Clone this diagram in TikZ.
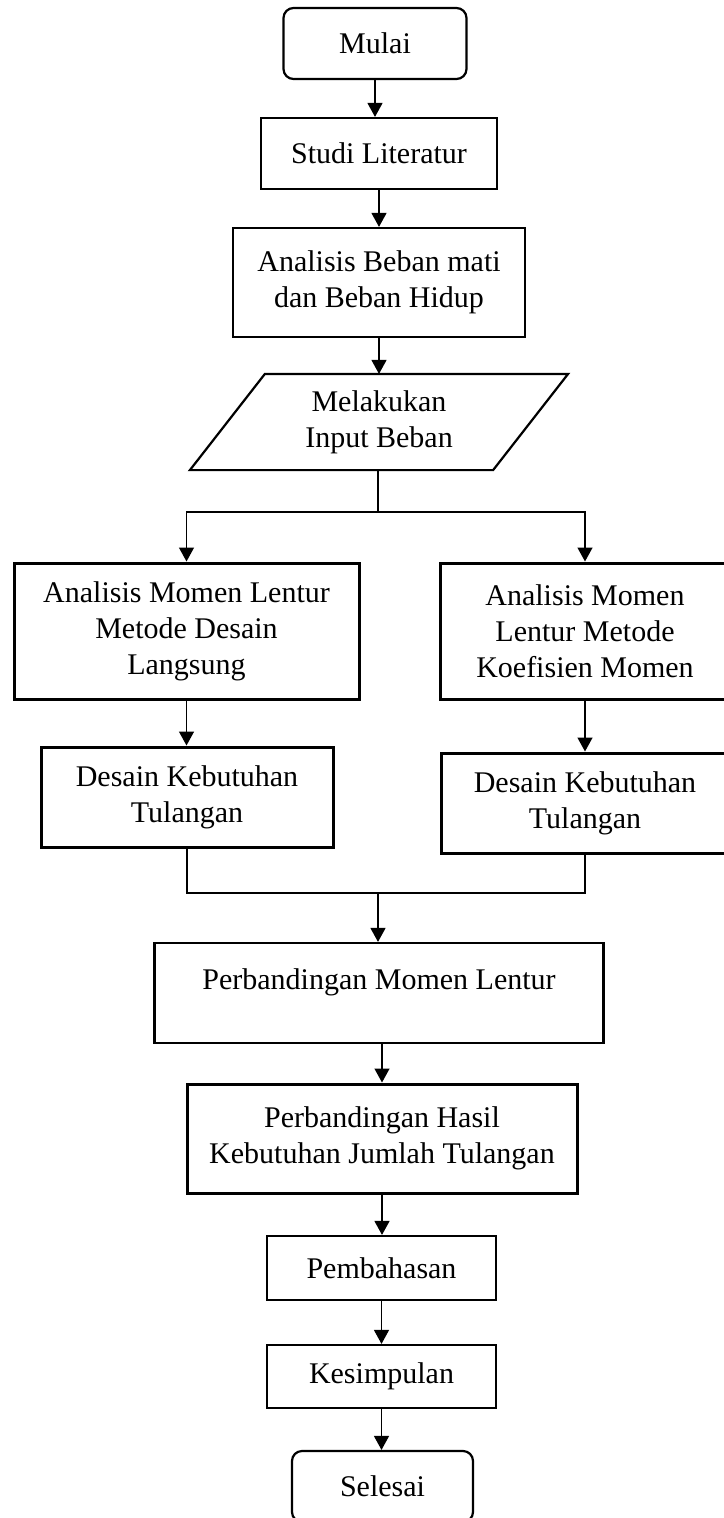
\documentclass[tikz,border=0pt]{standalone}
\usepackage{fontspec}
\setmainfont{Liberation Serif}
\usepackage{tikz}
\usetikzlibrary{arrows.meta, calc, positioning}

\begin{document}
\begin{tikzpicture}[x=1pt, y=-1pt, >={Triangle[length=14pt, width=15pt]},
  box/.style={draw, line width=2.2pt, align=center, inner sep=0pt,
              font=\fontsize{30}{36}\selectfont},
  heavy/.style={box, line width=3pt},
  term/.style={box, rounded corners=10pt},
  flow/.style={->, line width=1.4pt}]
  \useasboundingbox (0,0) rectangle (723,1518);
  % main column
  \node[term, minimum width=183pt, minimum height=71pt] (mulai) at (375,43.5) {Mulai};
  \node[box, minimum width=236pt, minimum height=71pt] (studi) at (379,153.5) {Studi Literatur};
  \node[box, minimum width=292pt, minimum height=109pt] (beban) at (379,282.5)
    {Analisis Beban mati\\dan Beban Hidup};
  \node[box, draw=none, minimum width=301pt, minimum height=94pt] (input) at (379,422)
    {Melakukan\\Input Beban};
  \draw[line width=2.2pt] ([xshift=-37.5pt]input.south west) -- ([xshift=-37.5pt]input.south east)
    -- ([xshift=37.5pt]input.north east) -- ([xshift=37.5pt]input.north west) -- cycle;
  % two methods
  \node[heavy, minimum width=345pt, minimum height=136pt] (aLeft) at (186.5,631)
    {Analisis Momen Lentur\\Metode Desain\\Langsung};
  \node[heavy, minimum width=290pt, minimum height=136pt] (aRight) at (585,631)
    {Analisis Momen\\Lentur Metode\\Koefisien Momen};
  \node[heavy, minimum width=292pt, minimum height=100pt] (dLeft) at (187,797)
    {Desain Kebutuhan\\Tulangan};
  \node[heavy, minimum width=288pt, minimum height=100pt] (dRight) at (585,803)
    {Desain Kebutuhan\\Tulangan};
  % comparison and end
  \node[box, minimum width=449pt, minimum height=100pt, text depth=28pt] (pMomen) at (379,993)
    {Perbandingan Momen Lentur};
  \node[heavy, minimum width=390pt, minimum height=109pt] (pHasil) at (382,1138.5)
    {Perbandingan Hasil\\Kebutuhan Jumlah Tulangan};
  \node[box, minimum width=229pt, minimum height=64pt] (bahas) at (381.5,1268) {Pembahasan};
  \node[box, minimum width=229pt, minimum height=63pt] (simpul) at (381.5,1376.5) {Kesimpulan};
  \node[term, minimum width=181pt, minimum height=71pt] (selesai) at (382.5,1486.5) {Selesai};
  \coordinate (split) at (378,512);
  \coordinate (join) at (378,893);
  % connectors
  \draw[flow] (mulai) -- (mulai |- studi.north);
  \draw[flow] (studi) -- (studi |- beban.north);
  \draw[flow] (beban) -- (beban |- input.north);
  \draw[line width=1.4pt] (input.south -| split) -- (split);
  \draw[flow] (split) -| (aLeft.north);
  \draw[flow] (split) -| (aRight.north);
  \draw[flow] (aLeft) -- (aLeft |- dLeft.north);
  \draw[flow] (aRight) -- (aRight |- dRight.north);
  \draw[line width=1.4pt] (dLeft.south) |- (join) -| (dRight.south);
  \draw[flow] (join) -- (join |- pMomen.north);
  \draw[flow] (pMomen.south -| pHasil) -- (pHasil.north);
  \draw[flow] (pHasil) -- (pHasil |- bahas.north);
  \draw[flow] (bahas) -- (bahas |- simpul.north);
  \draw[flow] (simpul) -- (simpul |- selesai.north);
\end{tikzpicture}
\end{document}
